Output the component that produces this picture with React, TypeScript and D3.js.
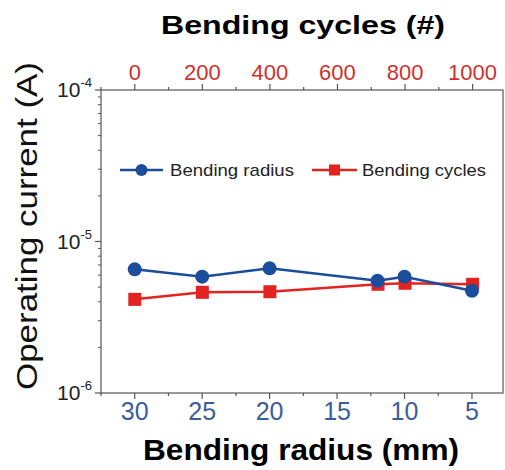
import { useRef, useEffect } from 'react';
import * as d3 from 'd3';

// values
const radius = [30, 25, 20, 12, 10, 5];
const radiusCurrent = [6.55e-6, 5.86e-6, 6.65e-6, 5.51e-6, 5.86e-6, 4.73e-6];
const cycles = [0, 200, 400, 720, 800, 1000];
const cyclesCurrent = [4.15e-6, 4.62e-6, 4.66e-6, 5.22e-6, 5.3e-6, 5.22e-6];

const radiusTicks = [30, 25, 20, 15, 10, 5];
const radiusMinor = [32.5, 27.5, 22.5, 17.5, 12.5, 7.5];
const cycleTicks = [0, 200, 400, 600, 800, 1000];
const cycleMinor = [-100, 100, 300, 500, 700, 900];
const currentTicks = [1e-6, 1e-5, 1e-4];
const currentExp = ['-6', '-5', '-4'];

const BLUE = '#1c4c9c';
const RED = '#e2231f';
const FONT = 'Liberation Sans, Arial, sans-serif';

export default function App() {
  const svgRef = useRef(null);

  useEffect(() => {
    const svg = d3.select(svgRef.current);
    svg.selectAll('*').remove();

    const left = 101, right = 503, top = 90, bottom = 393;

    const xR = d3.scaleLinear().domain([32.5, 2.7]).range([left, right]);
    const xC = d3.scaleLinear().domain([-100, 1090]).range([left, right]);
    const y = d3.scaleLog().domain([1e-6, 1e-4]).range([bottom, top]);

    const axisColor = '#555';

    // frame
    svg.append('rect')
      .attr('x', left).attr('y', top)
      .attr('width', right - left).attr('height', bottom - top)
      .attr('fill', 'none').attr('stroke', axisColor).attr('stroke-width', 1.2);

    // bottom axis (radius)
    const gB = svg.append('g');
    gB.selectAll('line.maj').data(radiusTicks).enter().append('line')
      .attr('x1', d => xR(d)).attr('x2', d => xR(d))
      .attr('y1', bottom).attr('y2', bottom + 6)
      .attr('stroke', axisColor).attr('stroke-width', 1.2);
    gB.selectAll('line.min').data(radiusMinor).enter().append('line')
      .attr('x1', d => xR(d)).attr('x2', d => xR(d))
      .attr('y1', bottom).attr('y2', bottom + 3)
      .attr('stroke', axisColor).attr('stroke-width', 1.2);
    gB.selectAll('text').data(radiusTicks).enter().append('text')
      .attr('x', d => xR(d)).attr('y', bottom + 27)
      .attr('text-anchor', 'middle')
      .attr('font-family', FONT).attr('font-size', 25)
      .attr('fill', '#3a5d9c')
      .text(d => d);

    // top axis (cycles)
    const gT = svg.append('g');
    gT.selectAll('line.maj').data(cycleTicks).enter().append('line')
      .attr('x1', d => xC(d)).attr('x2', d => xC(d))
      .attr('y1', top).attr('y2', top - 6)
      .attr('stroke', axisColor).attr('stroke-width', 1.2);
    gT.selectAll('line.min').data(cycleMinor).enter().append('line')
      .attr('x1', d => xC(d)).attr('x2', d => xC(d))
      .attr('y1', top).attr('y2', top - 3)
      .attr('stroke', axisColor).attr('stroke-width', 1.2);
    gT.selectAll('text').data(cycleTicks).enter().append('text')
      .attr('x', d => xC(d)).attr('y', top - 10)
      .attr('text-anchor', 'middle')
      .attr('font-family', FONT).attr('font-size', 22)
      .attr('fill', '#d2302c')
      .text(d => d);

    // left axis (log current)
    const minor = [];
    [1e-6, 1e-5].forEach(dec => {
      for (let k = 2; k <= 9; k++) minor.push(dec * k);
    });
    const gL = svg.append('g');
    gL.selectAll('line.maj').data(currentTicks).enter().append('line')
      .attr('x1', left).attr('x2', left - 6)
      .attr('y1', d => y(d)).attr('y2', d => y(d))
      .attr('stroke', axisColor).attr('stroke-width', 1.2);
    gL.selectAll('line.min').data(minor).enter().append('line')
      .attr('x1', left).attr('x2', left - 3)
      .attr('y1', d => y(d)).attr('y2', d => y(d))
      .attr('stroke', axisColor).attr('stroke-width', 1);
    const lab = gL.selectAll('text').data(currentTicks).enter().append('text')
      .attr('x', left - 9).attr('y', d => y(d) + 7)
      .attr('text-anchor', 'end')
      .attr('font-family', FONT).attr('fill', '#222');
    lab.append('tspan').attr('font-size', 21).text('10');
    lab.append('tspan').attr('font-size', 13).attr('dy', -10)
      .text((d, i) => currentExp[i]);

    // axis titles
    svg.append('text')
      .attr('x', 303).attr('y', 34)
      .attr('text-anchor', 'middle')
      .attr('font-family', FONT).attr('font-weight', 'bold').attr('font-size', 26)
      .attr('textLength', 284).attr('lengthAdjust', 'spacingAndGlyphs')
      .attr('fill', '#000')
      .text('Bending cycles (#)');
    svg.append('text')
      .attr('x', 301).attr('y', 460)
      .attr('text-anchor', 'middle')
      .attr('font-family', FONT).attr('font-weight', 'bold').attr('font-size', 29)
      .attr('textLength', 316).attr('lengthAdjust', 'spacingAndGlyphs')
      .attr('fill', '#000')
      .text('Bending radius (mm)');
    svg.append('text')
      .attr('transform', `translate(37, ${(62 + 390) / 2}) rotate(-90)`)
      .attr('text-anchor', 'middle')
      .attr('font-family', FONT).attr('font-size', 30)
      .attr('textLength', 328).attr('lengthAdjust', 'spacingAndGlyphs')
      .attr('fill', '#111')
      .text('Operating current (A)');

    // series: cycles (red squares) under radius (blue circles)
    const cycData = cycles.map((c, i) => ({ x: xC(c), y: y(cyclesCurrent[i]) }));
    const radData = radius.map((r, i) => ({ x: xR(r), y: y(radiusCurrent[i]) }));
    const line = d3.line().x(d => d.x).y(d => d.y);

    svg.append('path').datum(cycData)
      .attr('d', line).attr('fill', 'none')
      .attr('stroke', RED).attr('stroke-width', 2.5);
    svg.selectAll('rect.sq').data(cycData).enter().append('rect')
      .attr('class', 'sq')
      .attr('x', d => d.x - 6.5).attr('y', d => d.y - 6.5)
      .attr('width', 13).attr('height', 13)
      .attr('fill', RED);

    svg.append('path').datum(radData)
      .attr('d', line).attr('fill', 'none')
      .attr('stroke', BLUE).attr('stroke-width', 2.5);
    svg.selectAll('circle.dot').data(radData).enter().append('circle')
      .attr('class', 'dot')
      .attr('cx', d => d.x).attr('cy', d => d.y).attr('r', 7)
      .attr('fill', BLUE);

    // legend
    const legY = 170;
    const leg = [
      { label: 'Bending radius', color: BLUE, shape: 'circle', x0: 120, x1: 163, tx: 170 },
      { label: 'Bending cycles', color: RED, shape: 'square', x0: 312, x1: 357, tx: 362 },
    ];
    leg.forEach(l => {
      svg.append('line')
        .attr('x1', l.x0).attr('x2', l.x1).attr('y1', legY).attr('y2', legY)
        .attr('stroke', l.color).attr('stroke-width', 2.5);
      const cx = (l.x0 + l.x1) / 2;
      if (l.shape === 'circle') {
        svg.append('circle').attr('cx', cx).attr('cy', legY).attr('r', 6).attr('fill', l.color);
      } else {
        svg.append('rect').attr('x', cx - 5.5).attr('y', legY - 5.5)
          .attr('width', 11).attr('height', 11).attr('fill', l.color);
      }
      svg.append('text')
        .attr('x', l.tx).attr('y', legY + 6)
        .attr('font-family', FONT).attr('font-size', 17)
        .attr('textLength', 124).attr('lengthAdjust', 'spacingAndGlyphs')
        .attr('fill', '#222')
        .text(l.label);
    });
  }, []);

  return (
    <svg
      ref={svgRef}
      width={505}
      height={470}
      style={{ position: 'absolute', left: 0, top: 0, background: '#fff' }}
    />
  );
}
